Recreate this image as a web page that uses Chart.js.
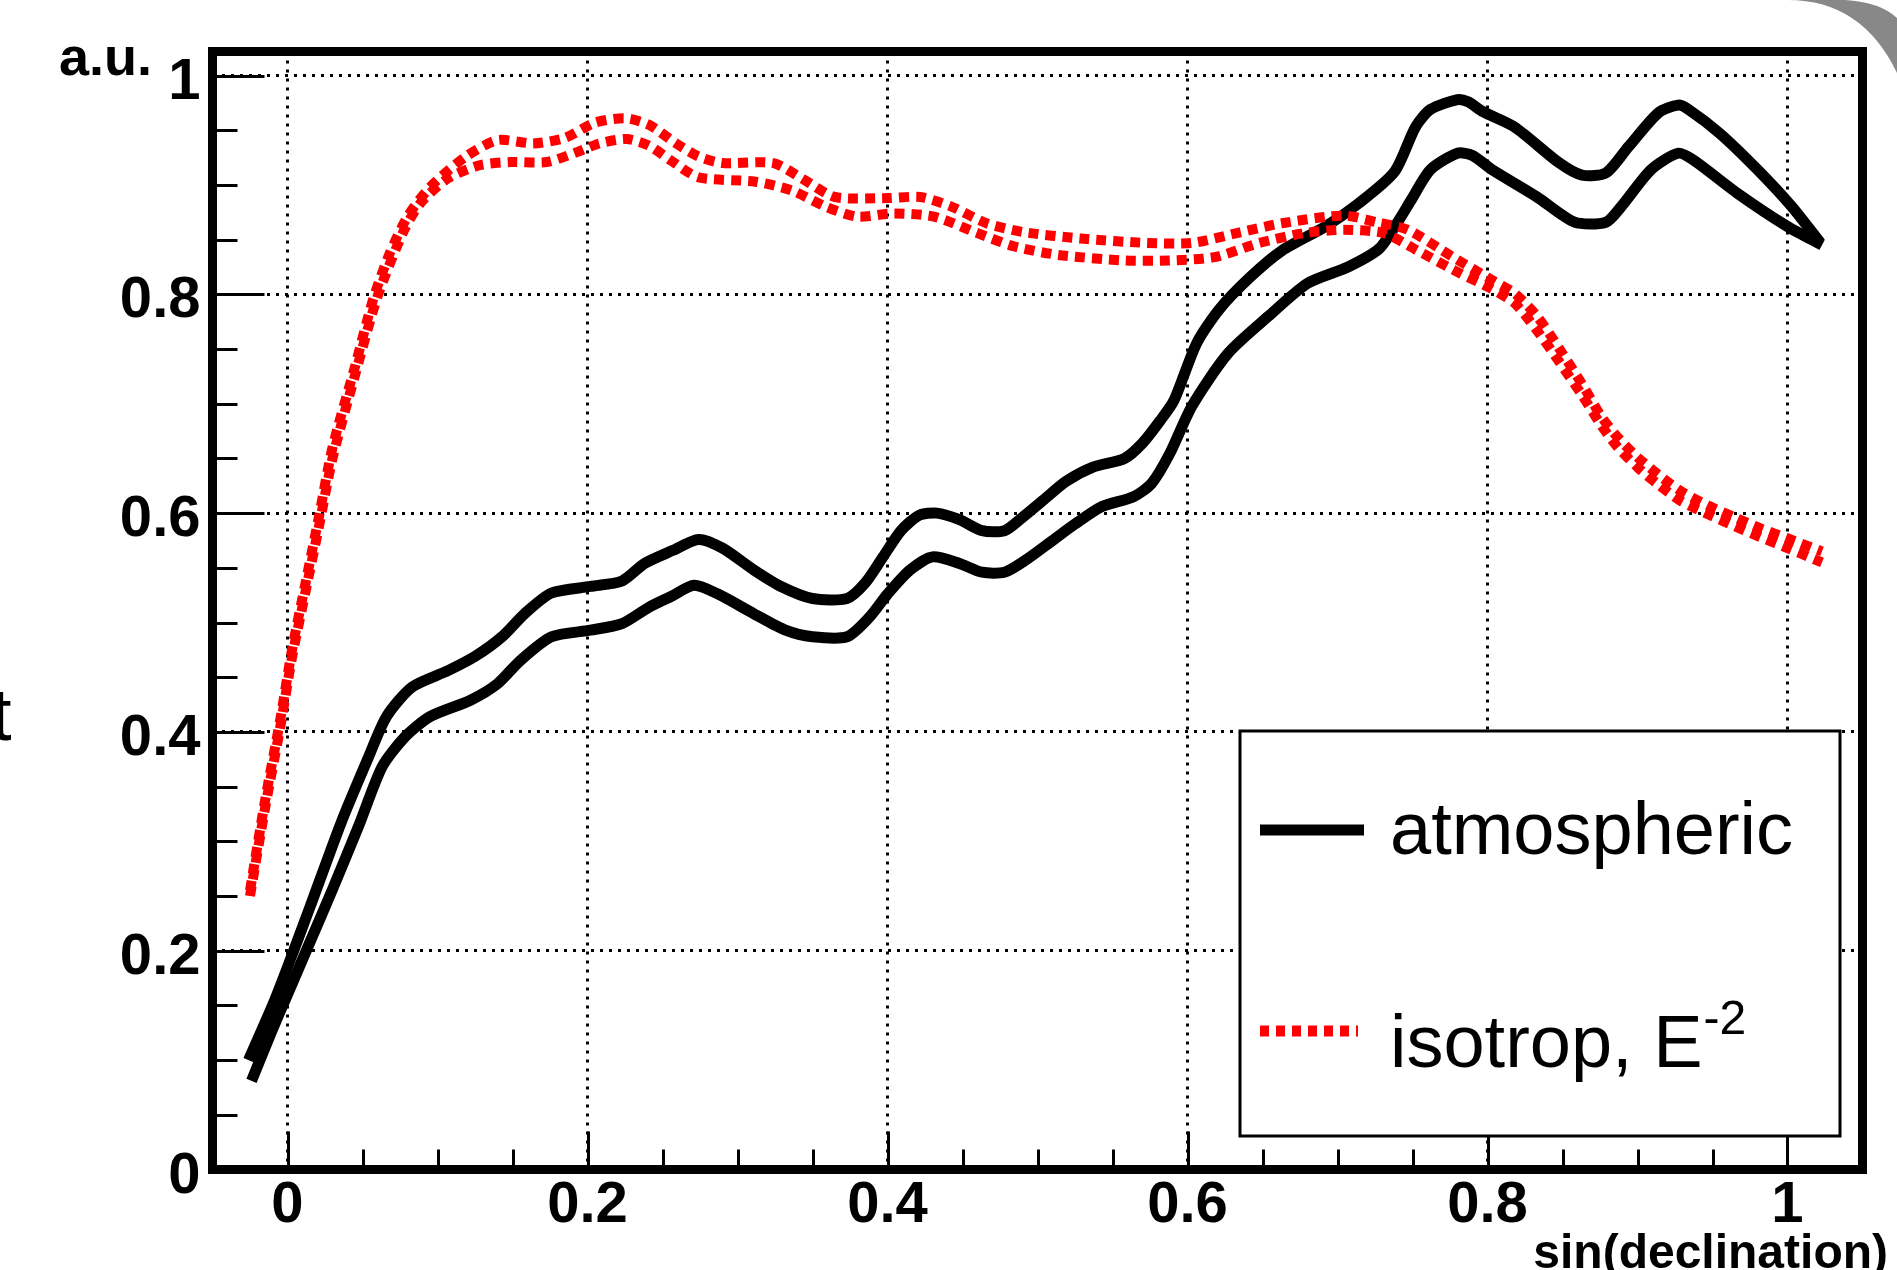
<!DOCTYPE html>
<html>
<head>
<meta charset="utf-8">
<title>sin(declination)</title>
<script src="https://cdn.jsdelivr.net/npm/chart.js@4.4.1/dist/chart.umd.min.js"></script>
<style>
    html, body { margin: 0; padding: 0; background: #fff; }
    #wrap { position: relative; width: 1897px; height: 1270px; }
</style>
</head>
<body>
<div id="wrap"><canvas id="chart"></canvas></div>
<script>
// Acceptance vs sin(declination): atmospheric band (black) and isotropic E^-2 band (red)

const FONT = '"Liberation Sans", Arial, Helvetica, sans-serif';

// axis ticks
const xTickValues = [0, 0.2, 0.4, 0.6, 0.8, 1];
const yTickValues = [0, 0.2, 0.4, 0.6, 0.8, 1];
const minorStep = 0.05;

// atmospheric, upper edge
const atmUpperX = [-0.026, -0.01, 0.0, 0.015, 0.036, 0.054, 0.066, 0.083, 0.107, 0.125, 0.143, 0.158, 0.176, 0.202, 0.223, 0.238, 0.257, 0.274, 0.290, 0.311, 0.329, 0.350, 0.373, 0.385, 0.397, 0.409, 0.421, 0.433, 0.448, 0.463, 0.478, 0.489, 0.504, 0.519, 0.537, 0.558, 0.570, 0.582, 0.591, 0.606, 0.621, 0.642, 0.663, 0.692, 0.714, 0.738, 0.752, 0.762, 0.780, 0.787, 0.797, 0.818, 0.848, 0.863, 0.879, 0.894, 0.914, 0.927, 0.934, 0.955, 0.980, 1.003, 1.022];
const atmUpperY = [0.100, 0.150, 0.185, 0.240, 0.318, 0.377, 0.414, 0.441, 0.456, 0.469, 0.487, 0.508, 0.527, 0.533, 0.538, 0.554, 0.566, 0.576, 0.568, 0.548, 0.533, 0.522, 0.522, 0.536, 0.560, 0.584, 0.598, 0.600, 0.594, 0.584, 0.584, 0.595, 0.612, 0.629, 0.642, 0.650, 0.664, 0.685, 0.703, 0.755, 0.786, 0.816, 0.840, 0.862, 0.883, 0.912, 0.953, 0.969, 0.978, 0.976, 0.967, 0.953, 0.920, 0.909, 0.911, 0.935, 0.966, 0.973, 0.969, 0.947, 0.914, 0.880, 0.847];

// atmospheric, lower edge
const atmLowerX = [-0.024, -0.01, 0.0, 0.015, 0.030, 0.048, 0.063, 0.078, 0.095, 0.122, 0.140, 0.155, 0.176, 0.202, 0.223, 0.241, 0.256, 0.271, 0.287, 0.311, 0.332, 0.350, 0.373, 0.388, 0.400, 0.415, 0.430, 0.448, 0.463, 0.478, 0.492, 0.510, 0.525, 0.543, 0.564, 0.576, 0.588, 0.603, 0.627, 0.654, 0.680, 0.707, 0.728, 0.741, 0.749, 0.762, 0.780, 0.790, 0.803, 0.833, 0.858, 0.879, 0.889, 0.909, 0.927, 0.937, 0.967, 1.000, 1.023];
const atmLowerY = [0.081, 0.128, 0.160, 0.208, 0.256, 0.316, 0.368, 0.395, 0.414, 0.429, 0.444, 0.465, 0.487, 0.493, 0.499, 0.514, 0.524, 0.534, 0.526, 0.508, 0.493, 0.487, 0.487, 0.505, 0.526, 0.548, 0.560, 0.554, 0.546, 0.546, 0.557, 0.575, 0.590, 0.606, 0.615, 0.627, 0.654, 0.698, 0.746, 0.780, 0.810, 0.825, 0.842, 0.868, 0.886, 0.914, 0.929, 0.927, 0.914, 0.889, 0.866, 0.866, 0.880, 0.914, 0.929, 0.923, 0.892, 0.862, 0.845];

// isotrop E^-2, upper edge
const isoUpperX = [-0.025, -0.015, -0.005, 0.003, 0.012, 0.021, 0.030, 0.045, 0.057, 0.068, 0.080, 0.095, 0.119, 0.140, 0.164, 0.185, 0.205, 0.225, 0.241, 0.259, 0.274, 0.290, 0.324, 0.344, 0.365, 0.401, 0.422, 0.443, 0.466, 0.490, 0.529, 0.573, 0.603, 0.633, 0.663, 0.704, 0.726, 0.747, 0.777, 0.803, 0.818, 0.833, 0.848, 0.863, 0.876, 0.887, 0.900, 0.914, 0.929, 0.947, 0.965, 0.982, 1.000, 1.023];
const isoUpperY = [0.255, 0.337, 0.410, 0.475, 0.536, 0.597, 0.660, 0.734, 0.795, 0.837, 0.871, 0.898, 0.926, 0.941, 0.938, 0.943, 0.957, 0.961, 0.955, 0.938, 0.926, 0.920, 0.920, 0.905, 0.889, 0.888, 0.889, 0.880, 0.865, 0.857, 0.851, 0.847, 0.847, 0.856, 0.865, 0.872, 0.866, 0.859, 0.834, 0.813, 0.801, 0.780, 0.750, 0.718, 0.688, 0.669, 0.651, 0.635, 0.620, 0.607, 0.596, 0.586, 0.577, 0.565];

// isotrop E^-2, lower edge
const isoLowerX = [-0.025, -0.015, -0.005, 0.003, 0.012, 0.021, 0.030, 0.045, 0.060, 0.0775, 0.089, 0.107, 0.128, 0.149, 0.173, 0.193, 0.208, 0.226, 0.241, 0.256, 0.274, 0.312, 0.336, 0.359, 0.380, 0.404, 0.431, 0.460, 0.484, 0.514, 0.558, 0.588, 0.618, 0.648, 0.678, 0.704, 0.731, 0.752, 0.782, 0.800, 0.818, 0.833, 0.848, 0.863, 0.876, 0.887, 0.900, 0.914, 0.929, 0.947, 0.965, 0.982, 1.000, 1.023];
const isoLowerY = [0.250, 0.330, 0.403, 0.468, 0.528, 0.588, 0.650, 0.726, 0.798, 0.858, 0.884, 0.906, 0.918, 0.921, 0.921, 0.930, 0.938, 0.942, 0.936, 0.922, 0.907, 0.903, 0.895, 0.880, 0.871, 0.874, 0.871, 0.856, 0.844, 0.836, 0.831, 0.831, 0.834, 0.847, 0.856, 0.859, 0.856, 0.841, 0.819, 0.807, 0.792, 0.767, 0.738, 0.708, 0.680, 0.660, 0.642, 0.626, 0.611, 0.599, 0.588, 0.578, 0.568, 0.555];

function toPoints(xs, ys) {
    return xs.map((x, i) => ({ x: x, y: ys[i] }));
}

function fmtTick(v) {
    return String(Math.round(v * 10) / 10);
}

// ROOT-like decorations: inward ticks, legend box, thick frame, axis titles
const rootStyle = {
    id: 'rootStyle',
    beforeDraw(chart) {
        const ctx = chart.ctx;
        ctx.save();
        ctx.fillStyle = '#fff';
        ctx.fillRect(0, 0, chart.width, chart.height);
        ctx.restore();
    },
    afterDatasetsDraw(chart) {
        const { ctx, chartArea: a } = chart;
        const xs = chart.scales.x;
        const ys = chart.scales.y;
        ctx.save();

        // tick marks pointing into the frame
        ctx.strokeStyle = '#000';
        ctx.lineWidth = 3;
        ctx.beginPath();
        for (let k = Math.ceil(xs.min / minorStep); k * minorStep <= xs.max; k++) {
            const v = k * minorStep;
            const major = xTickValues.some(t => Math.abs(t - v) < 1e-6);
            if (!major && (v <= xs.min + 1e-6 || v >= xs.max - 1e-6)) continue;
            const px = Math.round(xs.getPixelForValue(v)) + 0.5;
            ctx.moveTo(px, a.bottom);
            ctx.lineTo(px, a.bottom - (major ? 38 : 20));
        }
        for (let k = Math.ceil(ys.min / minorStep); k * minorStep <= ys.max; k++) {
            const v = k * minorStep;
            if (v <= ys.min + 1e-6) continue;
            const major = yTickValues.some(t => Math.abs(t - v) < 1e-6);
            const py = Math.round(ys.getPixelForValue(v)) + 0.5;
            ctx.moveTo(a.left, py);
            ctx.lineTo(a.left + (major ? 52 : 25), py);
        }
        ctx.stroke();

        // legend box
        const box = { left: 1240, top: 731, right: 1840, bottom: 1136 };
        ctx.fillStyle = '#fff';
        ctx.fillRect(box.left, box.top, box.right - box.left, box.bottom - box.top);
        ctx.lineWidth = 3;
        ctx.strokeStyle = '#000';
        ctx.strokeRect(box.left, box.top, box.right - box.left, box.bottom - box.top);

        const rows = [
            { lineY: 830, textY: 854, lineEnd: 1364 },
            { lineY: 1031, textY: 1067, lineEnd: 1358 }
        ];
        const entries = chart.data.datasets.filter(d => d.legendText);
        entries.sort((p, q) => p.legendRow - q.legendRow);
        entries.forEach((ds, i) => {
            const r = rows[i];
            ctx.beginPath();
            ctx.strokeStyle = ds.borderColor;
            ctx.lineWidth = 11;
            ctx.lineCap = 'butt';
            ctx.setLineDash(ds.borderDash ? [9, 7] : []);
            ctx.moveTo(1260, r.lineY);
            ctx.lineTo(r.lineEnd, r.lineY);
            ctx.stroke();
            ctx.setLineDash([]);

            ctx.fillStyle = '#000';
            ctx.font = '74px ' + FONT;
            ctx.textAlign = 'left';
            ctx.textBaseline = 'alphabetic';
            ctx.fillText(ds.legendText, 1390, r.textY);
            if (ds.legendSup) {
                const w = ctx.measureText(ds.legendText).width;
                ctx.font = '48px ' + FONT;
                ctx.fillText(ds.legendSup, 1390 + w + 1, r.textY - 33);
            }
        });

        // thick frame
        ctx.strokeStyle = '#000';
        ctx.lineWidth = 9;
        ctx.strokeRect(a.left, a.top, a.right - a.left, a.bottom - a.top);

        // axis titles
        ctx.fillStyle = '#000';
        ctx.font = 'bold 54px ' + FONT;
        ctx.textAlign = 'right';
        ctx.textBaseline = 'alphabetic';
        ctx.fillText('a.u.', 152, 75);
        ctx.font = 'bold 48px ' + FONT;
        ctx.fillText('sin(declination)', 1888, 1268);

        // leftover letter at the page edge
        ctx.font = '74px ' + FONT;
        ctx.textAlign = 'left';
        ctx.fillText('t', -9, 740);

        // grey rounded corner of the slide
        ctx.beginPath();
        ctx.fillStyle = '#888888';
        ctx.moveTo(1788, 0);
        ctx.quadraticCurveTo(1862, 0, 1897, 73);
        ctx.lineTo(1897, 18);
        ctx.quadraticCurveTo(1880, 2, 1845, 0);
        ctx.closePath();
        ctx.fill();

        ctx.restore();
    }
};

const ctx = document.getElementById('chart').getContext('2d');
Chart.defaults.font.family = FONT;
Chart.defaults.color = '#000';

new Chart(ctx, {
    type: 'line',
    data: {
        datasets: [
            {
                label: 'isotrop upper',
                legendText: 'isotrop, E', legendSup: '-2', legendRow: 1,
                data: toPoints(isoUpperX, isoUpperY),
                borderColor: '#ff0000', borderWidth: 10, borderDash: [10, 7],
                pointRadius: 0, tension: 0.25, order: 0
            },
            {
                label: 'isotrop lower',
                data: toPoints(isoLowerX, isoLowerY),
                borderColor: '#ff0000', borderWidth: 10, borderDash: [10, 7],
                pointRadius: 0, tension: 0.25, order: 1
            },
            {
                label: 'atmospheric upper',
                legendText: 'atmospheric', legendRow: 0,
                data: toPoints(atmUpperX, atmUpperY),
                borderColor: '#000000', borderWidth: 11,
                pointRadius: 0, tension: 0.25, order: 2
            },
            {
                label: 'atmospheric lower',
                data: toPoints(atmLowerX, atmLowerY),
                borderColor: '#000000', borderWidth: 11,
                pointRadius: 0, tension: 0.25, order: 3
            }
        ]
    },
    options: {
        responsive: true,
        maintainAspectRatio: false,
        animation: false,
        layout: { padding: { left: 0, top: 51.5, right: 34.5, bottom: 0 } },
        plugins: {
            legend: { display: false },
            tooltip: { enabled: false }
        },
        scales: {
            x: {
                type: 'linear',
                min: -0.05,
                max: 1.05,
                afterBuildTicks: s => { s.ticks = xTickValues.map(v => ({ value: v })); },
                afterFit: s => { s.height = 100.5; },
                grid: { color: '#000', lineWidth: 3, drawTicks: false },
                border: { display: false, dash: [3, 6] },
                ticks: {
                    autoSkip: false, maxRotation: 0, padding: 2,
                    font: { size: 58, weight: 'bold' },
                    color: '#000',
                    callback: v => fmtTick(v)
                }
            },
            y: {
                type: 'linear',
                min: 0,
                max: 1.022,
                afterBuildTicks: s => { s.ticks = yTickValues.map(v => ({ value: v })); },
                afterFit: s => { s.width = 212.5; },
                grid: { color: '#000', lineWidth: 3, drawTicks: false },
                border: { display: false, dash: [3, 6] },
                ticks: {
                    autoSkip: false, padding: 12, labelOffset: 7,
                    font: { size: 58, weight: 'bold' },
                    color: '#000',
                    callback: v => fmtTick(v)
                }
            }
        }
    },
    plugins: [rootStyle]
});
</script>
</body>
</html>
